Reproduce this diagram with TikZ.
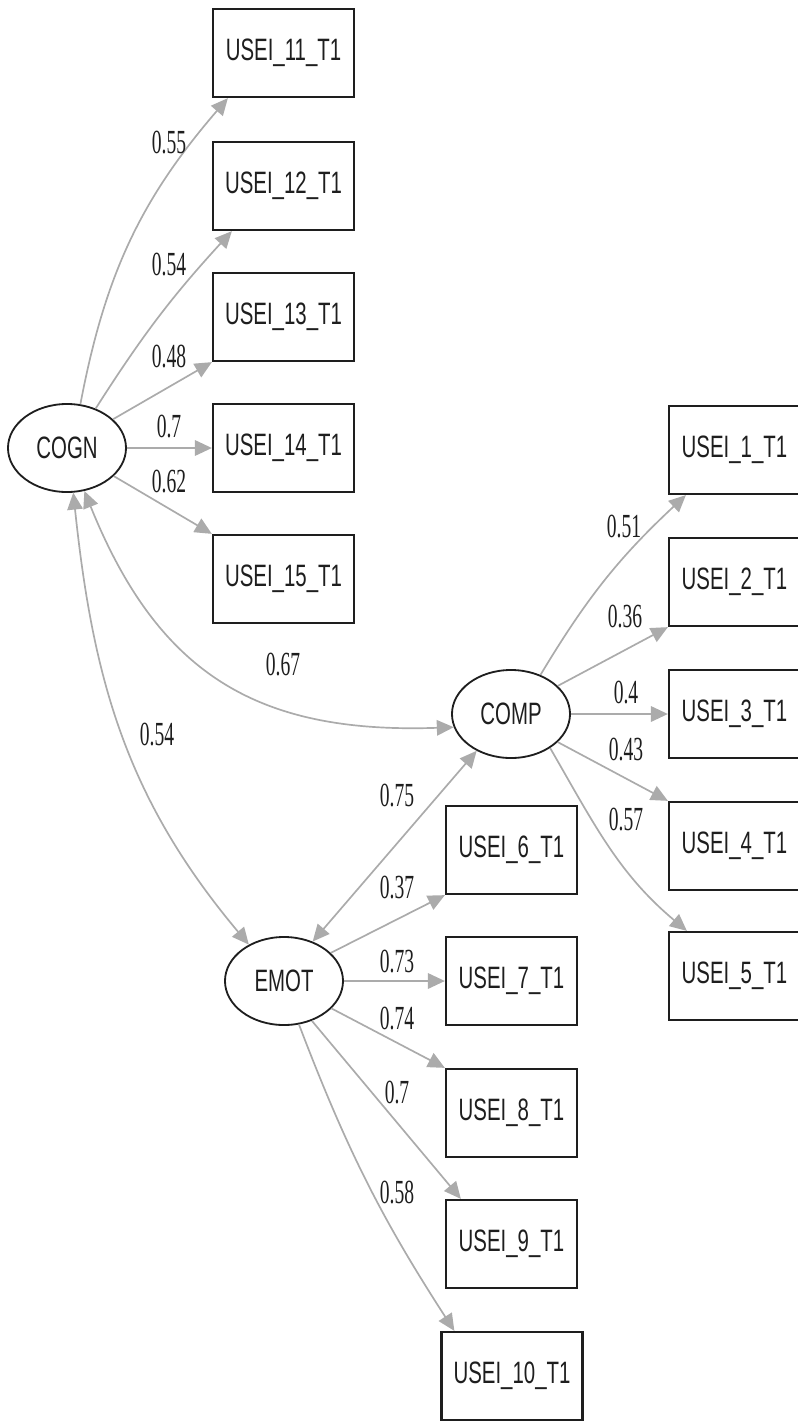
\documentclass[tikz,border=0pt]{standalone}
\usepackage{fontspec}
\usepackage{xcolor}
\usetikzlibrary{arrows.meta, positioning, shapes.geometric}
\newfontfamily\boxfont[FakeStretch=0.66]{Liberation Sans}
\newfontfamily\coeffont[FakeStretch=0.58]{Liberation Serif}
\definecolor{edgegray}{HTML}{ABABAB}
\definecolor{inkgray}{HTML}{1E1E1E}

\begin{document}
\begin{tikzpicture}[
    x=0.025cm, y=0.025cm,
    latent/.style={draw=inkgray, line width=1.3pt, ellipse, minimum width=2.95cm, minimum height=2.2cm, inner sep=0pt, text=inkgray, font=\boxfont\fontsize{22pt}{24pt}\selectfont},
    item/.style={draw=inkgray, line width=1.6pt, rectangle, minimum width=3.275cm, minimum height=2.2cm, inner sep=0pt, text=inkgray, font=\boxfont\fontsize{22pt}{24pt}\selectfont},
    wideitem/.style={item, minimum width=3.525cm},
    coef/.style={inner sep=0pt, text=inkgray, font=\coeffont\fontsize{24pt}{26pt}\selectfont},
    load/.style={draw=edgegray, line width=1.2pt, -{Triangle[length=12pt, width=11pt]}},
    cov/.style={draw=edgegray, line width=1.2pt, {Triangle[length=12pt, width=11pt]}-{Triangle[length=12pt, width=11pt]}}
]
\useasboundingbox (0,0) rectangle (797,-1421);

\node[latent] (cogn) at (67,-448) {COGN};
\node[latent] (comp) at (511,-714) {COMP};
\node[latent] (emot) at (284,-981) {EMOT};

\node[wideitem] (u11) at (283.5,-53) {USEI\_11\_T1};
\node[wideitem] (u12) at (283.5,-186) {USEI\_12\_T1};
\node[wideitem] (u13) at (283.5,-317) {USEI\_13\_T1};
\node[wideitem] (u14) at (283.5,-448) {USEI\_14\_T1};
\node[wideitem] (u15) at (283.5,-579) {USEI\_15\_T1};

\node[item] (u1) at (734.5,-450) {USEI\_1\_T1};
\node[item] (u2) at (734.5,-582) {USEI\_2\_T1};
\node[item] (u3) at (734.5,-714) {USEI\_3\_T1};
\node[item] (u4) at (734.5,-846) {USEI\_4\_T1};
\node[item] (u5) at (734.5,-976) {USEI\_5\_T1};

\node[item] (u6) at (511.5,-850) {USEI\_6\_T1};
\node[item] (u7) at (511.5,-981) {USEI\_7\_T1};
\node[item] (u8) at (511.5,-1113) {USEI\_8\_T1};
\node[item] (u9) at (511.5,-1244) {USEI\_9\_T1};
\node[wideitem] (u10) at (512,-1376) {USEI\_10\_T1};

\draw[load] (cogn.73) to[bend left=15] ([xshift=4mm]u11.south west);
\draw[load] (cogn.54) to[bend left=5] ([xshift=5mm]u12.south west);
\draw[load] (cogn.32) -- (u13.south west);
\draw[load] (cogn) -- (u14);
\draw[load] (cogn.-31) -- (u15.north west);

\draw[load] (comp.53) to[bend left=8] ([xshift=4.5mm]u1.south west);
\draw[load] (comp.31) -- (u2.south west);
\draw[load] (comp) -- (u3);
\draw[load] (comp.-31) -- (u4.north west);
\draw[load] (comp.-41) to[out=-60, in=140] ([xshift=4.75mm]u5.north west);

\draw[load] (emot.31) -- (u6.south west);
\draw[load] (emot) -- (u7);
\draw[load] (emot.-30) -- (u8.north west);
\draw[load] (emot.-55) -- ([xshift=4mm]u9.north west);
\draw[load] (emot.-71) to[bend right=6] ([xshift=3.5mm]u10.north west);

\draw[cov] (cogn.-68) to[out=-68, in=182, looseness=1.15] (comp.193);
\draw[cov] (cogn.-82) to[out=-84, in=130] (emot.134);
\draw[cov] (comp.227) -- (emot.54);

\node[coef] (k11) at (169,-143) {0.55};
\node[coef] (k12) at (169,-265) {0.54};
\node[coef] (k13) at (169,-357) {0.48};
\node[coef] (k14) at (169,-427) {0.7};
\node[coef] (k15) at (169,-482) {0.62};

\node[coef] (k1) at (624,-527) {0.51};
\node[coef] (k2) at (625,-617) {0.36};
\node[coef] (k3) at (626,-693) {0.4};
\node[coef] (k4) at (626,-750) {0.43};
\node[coef] (k5) at (626,-820) {0.57};

\node[coef] (k6) at (397,-888) {0.37};
\node[coef] (k7) at (397,-962) {0.73};
\node[coef] (k8) at (397,-1019) {0.74};
\node[coef] (k9) at (397,-1093) {0.7};
\node[coef] (k10) at (397,-1193) {0.58};

\node[coef] (kcc) at (283,-665) {0.67};
\node[coef] (kce) at (157,-735) {0.54};
\node[coef] (kme) at (397,-796) {0.75};

\end{tikzpicture}
\end{document}
